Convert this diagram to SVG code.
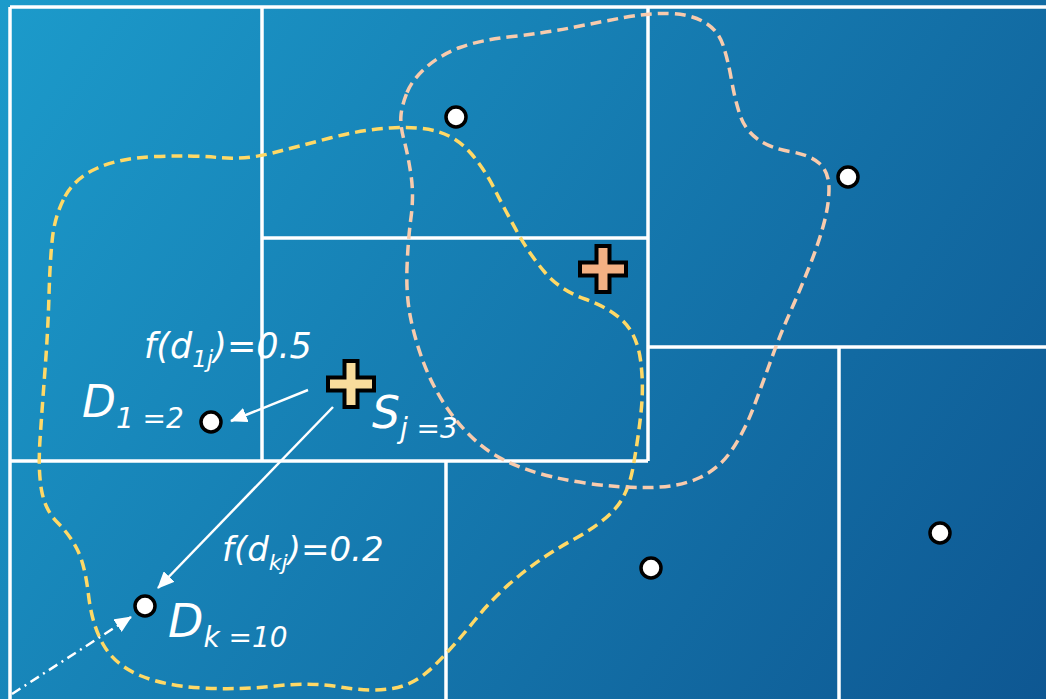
<svg xmlns="http://www.w3.org/2000/svg" width="1046" height="699" viewBox="0 0 1046 699">
<defs>
<linearGradient id="bg" x1="0" y1="0" x2="1046" y2="699" gradientUnits="userSpaceOnUse">
<stop offset="0" stop-color="#1c9bcb"/>
<stop offset="1" stop-color="#0e5792"/>
</linearGradient>
<marker id="ah" markerWidth="17" markerHeight="15" refX="16" refY="7.5" orient="auto" markerUnits="userSpaceOnUse">
<path d="M0,0 L17,7.5 L0,15 Z" fill="#fff"/>
</marker>
<path id="cross" d="M-6.5,-23 H6.5 V-6.5 H23 V6.5 H6.5 V23 H-6.5 V6.5 H-23 V-6.5 H-6.5 Z"/>
<style>
.grid{fill:none;stroke:#fff;stroke-width:3.5}
.yel{fill:none;stroke:#ffd966;stroke-width:3.5;stroke-dasharray:11 6}
.org{fill:none;stroke:#f8cbad;stroke-width:3.5;stroke-dasharray:11 6}
.pt{fill:#fff;stroke:#000;stroke-width:3.5}
.arr{fill:none;stroke:#fff;stroke-width:2.5;marker-end:url(#ah)}
.lbl{fill:#fff;font-family:"DejaVu Sans",sans-serif;font-style:italic}
</style>
</defs>
<rect width="1046" height="699" fill="url(#bg)"/>
<g id="grid">
<path class="grid" d="M10,7 H1046 M10,7 V699 M262,7 V461 M648,7 V461 M262,238 H648 M10,461 H648 M648,347 H1046 M839,347 V699 M446,461 V699"/>
</g>
<g id="region-yellow">
<path class="yel" d="M65,196.5 Q75,178 97.5,168 Q120,158 155,156.5 Q190,155 217.5,157.5 Q245,160 272.5,153 Q300,146 330,138 Q360,130 390,128 Q420,126 439,132 Q458,138 471.5,154 Q485,170 495,190 Q505,210 517.5,232.5 Q530,255 545,272.5 Q560,290 585,299 Q610,308 623.5,321.5 Q637,335 640.5,360 Q644,385 641,412.5 Q638,440 633,467.5 Q628,495 614,510 Q600,525 572.5,540 Q545,555 520,575 Q495,595 475,620 Q455,645 435,665 Q415,685 392.5,688.5 Q370,692 340,687 Q310,682 275,686 Q240,690 202.5,688 Q165,686 140,675.5 Q115,665 103.5,645 Q92,625 88.5,595 Q85,565 77.5,550 Q70,535 57.5,522.5 Q45,510 41.5,490 Q38,470 40,440 Q42,410 45,370 Q48,330 49,295 Q50,260 52.5,237.5 Q55,215 65,196.5 Z"/>
</g>
<g id="region-orange">
<path class="org" d="M407,92.5 Q412,80 426,67.5 Q440,55 460,47.5 Q480,40 512.5,36.5 Q545,33 572.5,27.5 Q600,22 624,17.5 Q648,13 669,13.5 Q690,14 704,22 Q718,30 723,45 Q728,60 731.5,80 Q735,100 740,115 Q745,130 757.5,139 Q770,148 790,151.5 Q810,155 819.5,163.5 Q829,172 829,188.5 Q829,205 823.5,225 Q818,245 809,267.5 Q800,290 790,312.5 Q780,335 771,360 Q762,385 753.5,407.5 Q745,430 732.5,449 Q720,468 700,477.5 Q680,487 650,487.5 Q620,488 585,483 Q550,478 522.5,468 Q495,458 476.5,441.5 Q458,425 445,405 Q432,385 423.5,362.5 Q415,340 410.5,317.5 Q406,295 407,267.5 Q408,240 411,217.5 Q414,195 411,175 Q408,155 404,140 Q400,125 401,115 Q402,105 407,92.5 Z"/>
</g>
<g id="connectors">
<path class="arr" d="M308,390 L231,421"/>
<path class="arr" d="M333,407 L158,588"/>
<path class="arr" d="M12,694 L131,617" stroke-dasharray="10 5 2 5"/>
</g>
<g id="points">
<circle class="pt" cx="456" cy="117" r="10"/>
<circle class="pt" cx="848" cy="177" r="10"/>
<circle class="pt" cx="211" cy="422" r="10"/>
<circle class="pt" cx="145" cy="606" r="10"/>
<circle class="pt" cx="651" cy="568" r="10"/>
<circle class="pt" cx="940" cy="533" r="10"/>
</g>
<g id="source-j">
<use href="#cross" x="351" y="384" fill="#f9dc9c" stroke="#000" stroke-width="4"/>
</g>
<g id="source-2">
<use href="#cross" x="603" y="269" fill="#f4b183" stroke="#000" stroke-width="4"/>
</g>
<g id="labels">
<text class="lbl" x="144" y="358" font-size="35">f(d<tspan font-size="23" dy="9">1j</tspan><tspan dy="-9">)=0.5</tspan></text>
<text class="lbl" x="82" y="417" font-size="44">D<tspan font-size="28" dy="11">1 =2</tspan></text>
<text class="lbl" x="372" y="428" font-size="44">S<tspan font-size="28" dy="10">j =3</tspan></text>
<text class="lbl" x="222" y="561" font-size="34">f(d<tspan font-size="22" dy="9">kj</tspan><tspan dy="-9">)=0.2</tspan></text>
<text class="lbl" x="168" y="637" font-size="46">D<tspan font-size="28" dy="10">k =10</tspan></text>
</g>
</svg>
